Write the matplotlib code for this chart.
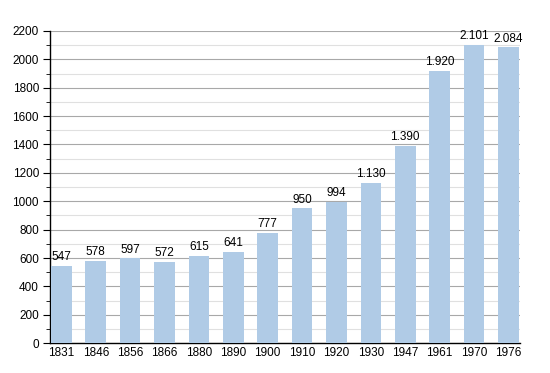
import matplotlib.pyplot as plt
from matplotlib.ticker import MultipleLocator

years = ['1831', '1846', '1856', '1866', '1880', '1890', '1900',
         '1910', '1920', '1930', '1947', '1961', '1970', '1976']
population = [547, 578, 597, 572, 615, 641, 777, 950, 994, 1130, 1390, 1920, 2101, 2084]
labels = ['547', '578', '597', '572', '615', '641', '777', '950', '994',
          '1.130', '1.390', '1.920', '2.101', '2.084']

plt.rcParams['font.family'] = ['Liberation Sans', 'DejaVu Sans']

fig = plt.figure(figsize=(5.5, 3.73), dpi=100)
ax = fig.add_axes([0.091, 0.080, 0.854, 0.837])

x = range(len(years))
ax.bar(x, population, width=0.6, color='#b0cbe6', zorder=3)

for i, (v, s) in enumerate(zip(population, labels)):
    ax.text(i, v + 20, s, ha='center', va='bottom', fontsize=8.5, color='#000000', zorder=4)

ax.set_xlim(-0.33, 13.33)
ax.set_ylim(0, 2200)
ax.yaxis.set_major_locator(MultipleLocator(200))
ax.yaxis.set_minor_locator(MultipleLocator(100))
ax.grid(axis='y', which='major', color='#a8a8a8', linewidth=0.8, zorder=0)
ax.grid(axis='y', which='minor', color='#e0e0e0', linewidth=0.8, zorder=0)
ax.set_xticks(list(x))
ax.set_xticklabels(years)
ax.tick_params(axis='x', length=0, labelsize=8.5, pad=3)
ax.tick_params(axis='y', which='major', length=5, labelsize=8.5, pad=3)
ax.tick_params(axis='y', which='minor', length=3)

for side in ['top', 'right']:
    ax.spines[side].set_visible(False)
ax.spines['left'].set_linewidth(1)
ax.spines['bottom'].set_linewidth(1)

fig.savefig('out.png', dpi=100)
